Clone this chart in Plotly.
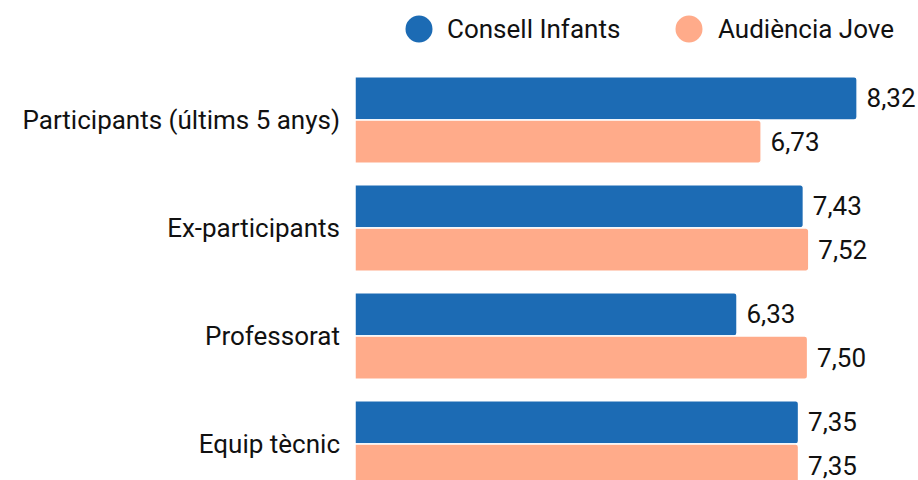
import plotly.graph_objects as go

categories = ["Participants (últims 5 anys)", "Ex-participants", "Professorat", "Equip tècnic"]
series_names = ["Consell Infants", "Audiència Jove"]
consell_infants = [8.32, 7.43, 6.33, 7.35]
audiencia_jove = [6.73, 7.52, 7.50, 7.35]
colors = ["#1c6bb4", "#ffab8a"]

W, H = 918, 480
ML, MR, MT, MB = 355, 0, 66, 0
plot_w = W - ML - MR
plot_h = H - MT - MB
px_per_unit = 60.35
FS = 26
FONT = "Roboto"
TXT = "#111111"

fig = go.Figure()
for name, vals, col in zip(series_names, [consell_infants, audiencia_jove], colors):
    fig.add_trace(go.Bar(
        y=categories, x=vals, name=name, orientation="h",
        marker=dict(color=col, line=dict(color="white", width=1.5), cornerradius=3),
        texttemplate=" %{x:.2f}", textposition="outside", cliponaxis=False,
        textfont=dict(family=FONT, size=FS, color=TXT),
        showlegend=False, hoverinfo="skip",
    ))

# legend drawn as circles + labels
legend_items = [(419, 445), (689, 716)]
for (cx, tx), name, col in zip(legend_items, series_names, colors):
    xa = (cx - ML) / plot_w
    ya = 1 + (MT - 29) / plot_h
    fig.add_shape(type="circle", xref="paper", yref="paper",
                  xsizemode="pixel", ysizemode="pixel",
                  xanchor=xa, yanchor=ya, x0=-13.5, x1=13.5, y0=-13.5, y1=13.5,
                  fillcolor=col, line=dict(width=0))
    fig.add_annotation(text=name, xref="paper", yref="paper",
                       x=(tx - ML) / plot_w, y=ya, xanchor="left", yanchor="middle",
                       showarrow=False, font=dict(family=FONT, size=FS, color=TXT))

fig.update_layout(
    width=W, height=H,
    margin=dict(l=ML, r=MR, t=MT, b=MB),
    barmode="group", bargap=0.2, bargroupgap=0,
    separators=",.",
    plot_bgcolor="white", paper_bgcolor="white",
    font=dict(family=FONT, size=FS, color=TXT),
    xaxis=dict(range=[0, plot_w / px_per_unit], visible=False),
    yaxis=dict(range=[3 + (H - MB - 444) / 108, -0.5], showgrid=False, showline=False,
               ticks="", ticklabelstandoff=14, tickfont=dict(family=FONT, size=FS, color=TXT)),
)
fig.write_html("out.html", config={"displayModeBar": False},
               post_script="document.body.style.margin='0';document.body.style.overflow='hidden';")
